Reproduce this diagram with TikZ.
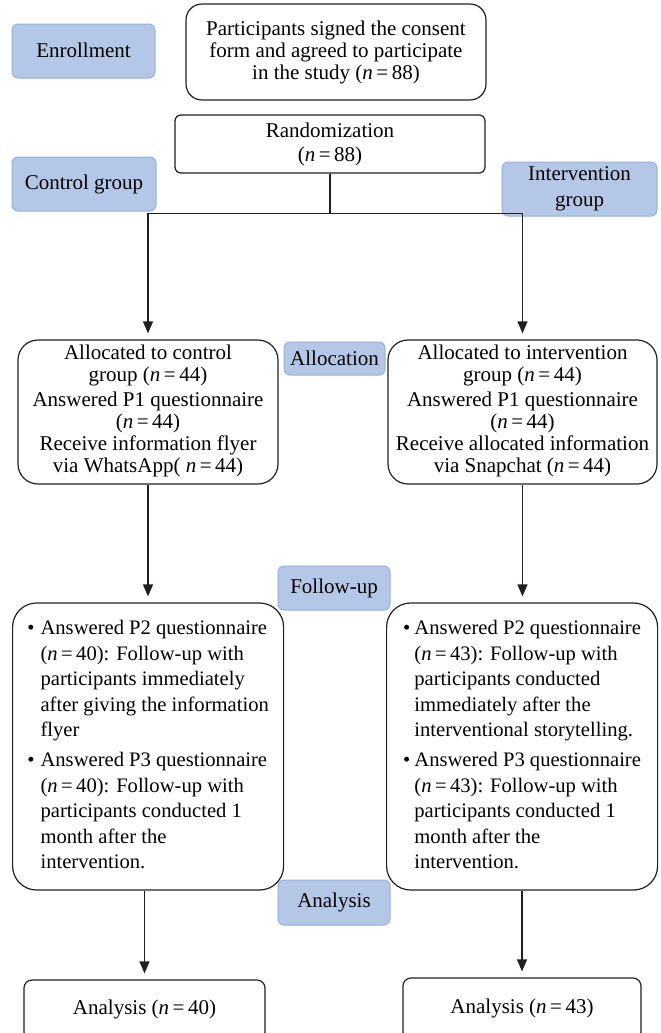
\documentclass[tikz,border=0pt]{standalone}
\usepackage{fontspec}
\setmainfont{Liberation Serif}
\usetikzlibrary{arrows.meta, positioning, calc}
\definecolor{stagefill}{RGB}{180, 199, 231}
\definecolor{stageline}{RGB}{150, 176, 222}
\definecolor{boxline}{RGB}{35, 31, 32}
\newcommand{\nn}[1]{(\textit{n}\,=\,#1)}

\begin{document}
\begin{tikzpicture}[
            x=0.5pt, y=-0.5pt,
            every node/.style={font=\fontsize{10.5}{11}\selectfont},
            stage/.style={rectangle, rounded corners=3pt, draw=stageline, line width=0.5pt, fill=stagefill, align=center, inner sep=0pt},
            box/.style={rectangle, draw=boxline, line width=0.6pt, fill=white, align=center, inner sep=0pt},
            bullets/.style={box, rounded corners=12pt, minimum width=135.5pt, minimum height=143.5pt, align=left, inner xsep=7pt, anchor=west, font=\fontsize{10.3}{12.8}\selectfont},
            flow/.style={draw=boxline, line width=0.6pt, -{Triangle[width=5pt, length=6pt]}, shorten >=3pt}
        ]
            \useasboundingbox (0,0) rectangle (660,1033);
            \clip (0,0) rectangle (660,1033);

            % ENROLLMENT
            \node[box, rounded corners=8pt, minimum width=150pt, minimum height=48pt] (consent) at (336,52) {
                Participants signed the consent\\
                form and agreed to participate\\
                in the study \nn{88}
            };
            \node[box, rounded corners=3pt, minimum width=155pt, minimum height=29pt] (random) at (330,144) {
                Randomization\\[1pt]
                \nn{88}
            };

            % ALLOCATION
            \node[box, rounded corners=10pt, minimum width=130pt, minimum height=72pt] (ctrlalloc) at (148,412) {%
                \raisebox{-2.5pt}{\begin{tabular}{@{}c@{}}
                Allocated to control\\
                group \nn{44}\\[1.5pt]
                Answered P1 questionnaire\\
                \nn{44}\\
                Receive information flyer\\
                via WhatsApp( \textit{n}\,=\,44)
                \end{tabular}}%
            };
            \node[box, rounded corners=10pt, minimum width=134.5pt, minimum height=72pt] (intalloc) at (522.5,412) {%
                \raisebox{-2.5pt}{\begin{tabular}{@{}c@{}}
                Allocated to intervention\\
                group \nn{44}\\[1.5pt]
                Answered P1 questionnaire\\
                \nn{44}\\
                Receive allocated information\\
                via Snapchat \nn{44}
                \end{tabular}}%
            };

            % FOLLOW-UP
            \node[bullets] (ctrlfollow) at (12,746.5) {%
                \begin{tabular}{@{}l@{\hspace{3pt}}l@{}}
                \textbullet & Answered P2 questionnaire\\
                            & \nn{40}: Follow-up with\\
                            & participants immediately\\
                            & after giving the information\\
                            & flyer\\[2pt]
                \textbullet & Answered P3 questionnaire\\
                            & \nn{40}: Follow-up with\\
                            & participants conducted 1\\
                            & month after the\\
                            & intervention.
                \end{tabular}%
            };
            \node[bullets] (intfollow) at (386,746.5) {%
                \begin{tabular}{@{}l@{\hspace{2pt}}l@{}}
                \textbullet & Answered P2 questionnaire\\
                            & \nn{43}: Follow-up with\\
                            & participants conducted\\
                            & immediately after the\\
                            & interventional storytelling.\\[2pt]
                \textbullet & Answered P3 questionnaire\\
                            & \nn{43}: Follow-up with\\
                            & participants conducted 1\\
                            & month after the\\
                            & intervention.
                \end{tabular}%
            };

            % ANALYSIS
            \node[box, rounded corners=4pt, minimum width=120.5pt, minimum height=30pt] (ctrlanalysis) at (144.5,1010) {\raisebox{2.5pt}{Analysis \nn{40}}};
            \node[box, rounded corners=4pt, minimum width=119pt, minimum height=31pt] (intanalysis) at (522,1009) {\raisebox{2.5pt}{Analysis \nn{43}}};

            % Stage labels
            \node[stage, minimum width=71.5pt, minimum height=27pt] (enrol) at (83.5,51) {\raisebox{1pt}{Enrollment}};
            \node[stage, minimum width=72pt, minimum height=27pt] (ctrlgroup) at (84,184) {Control group};
            \node[stage, minimum width=77.5pt, minimum height=27pt, font=\fontsize{10.5}{13}\selectfont] (intgroup) at (579.5,189) {Intervention\\group};
            \node[stage, minimum width=50.5pt, minimum height=16.5pt] (allocation) at (334.5,358.5) {Allocation};
            \node[stage, minimum width=56pt, minimum height=22pt] (followup) at (334,588) {\raisebox{2pt}{Follow-up}};
            \node[stage, minimum width=56pt, minimum height=22.5pt] (analysis) at (334,902.5) {\raisebox{2pt}{Analysis}};

            % Connectors
            \coordinate (split) at ($(random.south)+(0,40)$);
            \draw[draw=boxline, line width=0.6pt] (random.south) -- (split);
            \draw[flow] (split) -| (ctrlalloc.north);
            \draw[flow] (split) -| (intalloc.north);
            \draw[flow] (ctrlalloc.south) -- (ctrlalloc.south |- ctrlfollow.north);
            \draw[flow] (intalloc.south) -- (intalloc.south |- intfollow.north);
            \draw[flow] (ctrlanalysis.north |- ctrlfollow.south) -- (ctrlanalysis.north);
            \draw[flow] (intanalysis.north |- intfollow.south) -- (intanalysis.north);
        \end{tikzpicture}
\end{document}
